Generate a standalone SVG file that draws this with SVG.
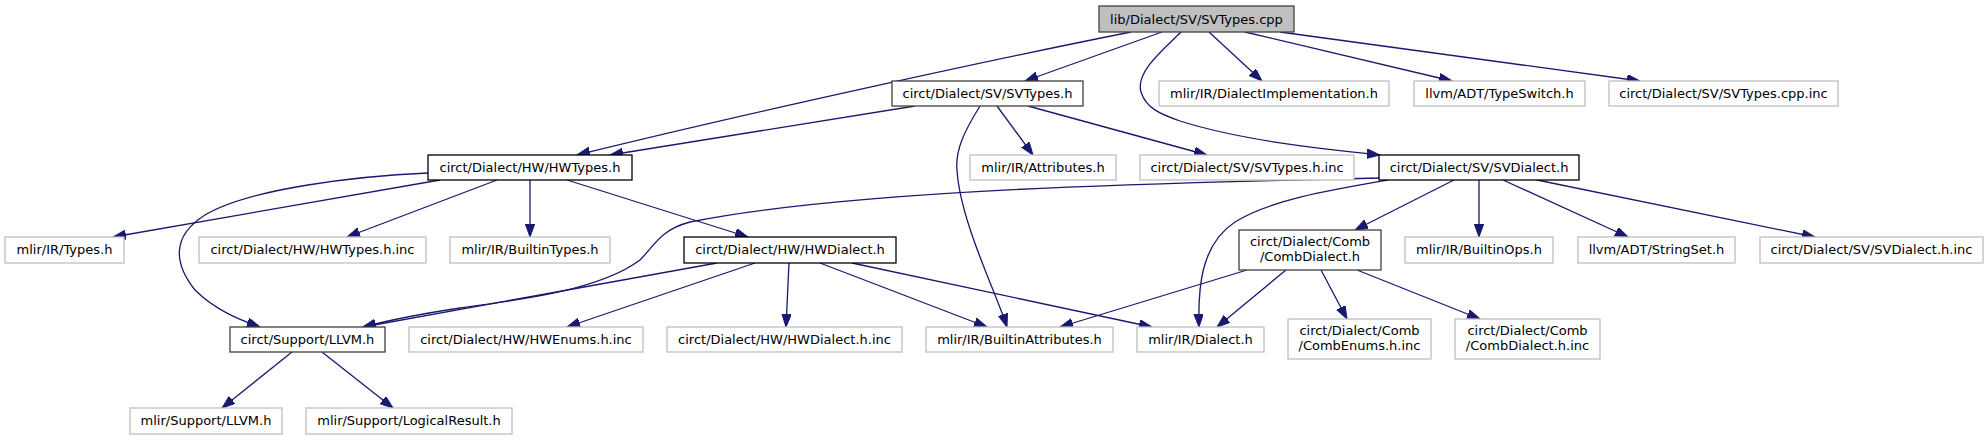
<svg xmlns="http://www.w3.org/2000/svg" width="1988" height="440" viewBox="0 0 1988 440">
<style>
.n rect{fill:#fff;stroke:#000;stroke-width:1.3}
.n.g rect{stroke:#bfbfbf}
.n.d rect{stroke:#404040}
.n.root rect{fill:#bfbfbf;stroke:#404040}
text{font-family:"DejaVu Sans",sans-serif;font-size:13px;fill:#000;text-anchor:middle}
#edges path{fill:none;stroke:#191970;stroke-width:1.3}
</style>
<defs>
<marker id="ah" markerUnits="userSpaceOnUse" markerWidth="14" markerHeight="10" refX="13" refY="4.7" orient="auto">
<path d="M0,0 L13,4.7 L0,9.4 z" fill="#191970" stroke="#191970" stroke-width="1"/>
</marker>
</defs>
<rect width="1988" height="440" fill="#fff"/>
<g id="edges">
<path marker-end="url(#ah)" d="M1131,32 C1000,58 760,110 577,155"/>
<path marker-end="url(#ah)" d="M1162,32 L1025,81"/>
<path marker-end="url(#ah)" d="M1181,32 C1165,48 1135,72 1141,92 C1146,108 1160,114 1180,121 C1240,140 1320,149 1380,155"/>
<path marker-end="url(#ah)" d="M1209,32 L1262,81"/>
<path marker-end="url(#ah)" d="M1245,32 L1452,81"/>
<path marker-end="url(#ah)" d="M1280,32 L1640,81"/>
<path marker-end="url(#ah)" d="M915,106 L610,155"/>
<path marker-end="url(#ah)" d="M980,106 C965,130 955,150 957,170 C960,220 995,290 1007,327"/>
<path marker-end="url(#ah)" d="M997,106 L1033,155"/>
<path marker-end="url(#ah)" d="M1028,106 L1207,155"/>
<path marker-end="url(#ah)" d="M440,180 L113,237"/>
<path marker-end="url(#ah)" d="M428,173 C360,176 250,188 205,215 C170,237 175,265 195,290 C215,310 240,320 260,327"/>
<path marker-end="url(#ah)" d="M497,180 L347,237"/>
<path marker-end="url(#ah)" d="M530,180 L530,237"/>
<path marker-end="url(#ah)" d="M567,180 L748,237"/>
<path marker-end="url(#ah)" d="M717,263 L363,327"/>
<path marker-end="url(#ah)" d="M755,263 L567,327"/>
<path marker-end="url(#ah)" d="M789,263 L786,327"/>
<path marker-end="url(#ah)" d="M820,263 L987,327"/>
<path marker-end="url(#ah)" d="M852,263 L1152,327"/>
<path marker-end="url(#ah)" d="M1379,178 C1150,183 850,190 690,222 C660,230 655,245 640,260 C600,290 520,300 460,308 C420,314 390,320 363,327"/>
<path marker-end="url(#ah)" d="M1388,180 C1330,190 1270,200 1235,222 C1200,245 1198,290 1199,327"/>
<path marker-end="url(#ah)" d="M1454,180 L1355,230"/>
<path marker-end="url(#ah)" d="M1479,180 L1479,237"/>
<path marker-end="url(#ah)" d="M1503,180 L1628,237"/>
<path marker-end="url(#ah)" d="M1537,180 L1815,237"/>
<path marker-end="url(#ah)" d="M1247,270 L1060,327"/>
<path marker-end="url(#ah)" d="M1286,270 L1217,327"/>
<path marker-end="url(#ah)" d="M1321,270 L1347,319"/>
<path marker-end="url(#ah)" d="M1357,270 L1480,319"/>
<path marker-end="url(#ah)" d="M292,352 L222,408"/>
<path marker-end="url(#ah)" d="M322,352 L393,408"/>
</g>
<g id="n_root" class="n root"><rect x="1099" y="6" width="195" height="26"/><text x="1196.5" y="24">lib/Dialect/SV/SVTypes.cpp</text></g>
<g id="n_svtypes" class="n d"><rect x="892" y="81" width="191" height="25"/><text x="987.5" y="98">circt/Dialect/SV/SVTypes.h</text></g>
<g id="n_dialimpl" class="n g"><rect x="1159" y="81" width="230" height="25"/><text x="1274" y="98">mlir/IR/DialectImplementation.h</text></g>
<g id="n_typeswitch" class="n g"><rect x="1414" y="81" width="171" height="25"/><text x="1499.5" y="98">llvm/ADT/TypeSwitch.h</text></g>
<g id="n_svtypescppinc" class="n g"><rect x="1609" y="81" width="229" height="25"/><text x="1723.5" y="98">circt/Dialect/SV/SVTypes.cpp.inc</text></g>
<g id="n_hwtypes" class="n"><rect x="428" y="155" width="204" height="25"/><text x="530" y="172">circt/Dialect/HW/HWTypes.h</text></g>
<g id="n_attributes" class="n g"><rect x="970" y="155" width="146" height="25"/><text x="1043" y="172">mlir/IR/Attributes.h</text></g>
<g id="n_svtypeshinc" class="n g"><rect x="1140" y="155" width="214" height="25"/><text x="1247" y="172">circt/Dialect/SV/SVTypes.h.inc</text></g>
<g id="n_svdialect" class="n"><rect x="1379" y="155" width="200" height="25"/><text x="1479" y="172">circt/Dialect/SV/SVDialect.h</text></g>
<g id="n_types" class="n g"><rect x="5" y="237" width="119" height="26"/><text x="64.5" y="254">mlir/IR/Types.h</text></g>
<g id="n_hwtypeshinc" class="n g"><rect x="199" y="237" width="227" height="26"/><text x="312.5" y="254">circt/Dialect/HW/HWTypes.h.inc</text></g>
<g id="n_builtintypes" class="n g"><rect x="450" y="237" width="160" height="26"/><text x="530" y="254">mlir/IR/BuiltinTypes.h</text></g>
<g id="n_hwdialect" class="n"><rect x="684" y="237" width="212" height="26"/><text x="790" y="254">circt/Dialect/HW/HWDialect.h</text></g>
<g id="n_combdialect" class="n d"><rect x="1239" y="230" width="142" height="40"/><text x="1310" y="246">circt/Dialect/Comb</text><text x="1310" y="261">/CombDialect.h</text></g>
<g id="n_builtinops" class="n g"><rect x="1405" y="237" width="148" height="26"/><text x="1479" y="254">mlir/IR/BuiltinOps.h</text></g>
<g id="n_stringset" class="n g"><rect x="1578" y="237" width="157" height="26"/><text x="1656.5" y="254">llvm/ADT/StringSet.h</text></g>
<g id="n_svdialecthinc" class="n g"><rect x="1760" y="237" width="223" height="26"/><text x="1871.5" y="254">circt/Dialect/SV/SVDialect.h.inc</text></g>
<g id="n_llvm" class="n d"><rect x="230" y="327" width="155" height="25"/><text x="307.5" y="344">circt/Support/LLVM.h</text></g>
<g id="n_hwenums" class="n g"><rect x="409" y="327" width="234" height="25"/><text x="526" y="344">circt/Dialect/HW/HWEnums.h.inc</text></g>
<g id="n_hwdialecthinc" class="n g"><rect x="667" y="327" width="235" height="25"/><text x="784.5" y="344">circt/Dialect/HW/HWDialect.h.inc</text></g>
<g id="n_builtinattrs" class="n g"><rect x="926" y="327" width="187" height="25"/><text x="1019.5" y="344">mlir/IR/BuiltinAttributes.h</text></g>
<g id="n_dialect" class="n g"><rect x="1137" y="327" width="127" height="25"/><text x="1200.5" y="344">mlir/IR/Dialect.h</text></g>
<g id="n_combenums" class="n g"><rect x="1288" y="319" width="143" height="40"/><text x="1359.5" y="335">circt/Dialect/Comb</text><text x="1359.5" y="350">/CombEnums.h.inc</text></g>
<g id="n_combdialecthinc" class="n g"><rect x="1455" y="319" width="145" height="40"/><text x="1527.5" y="335">circt/Dialect/Comb</text><text x="1527.5" y="350">/CombDialect.h.inc</text></g>
<g id="n_mlirllvm" class="n g"><rect x="130" y="408" width="152" height="26"/><text x="206" y="425">mlir/Support/LLVM.h</text></g>
<g id="n_logicalresult" class="n g"><rect x="306" y="408" width="206" height="26"/><text x="409" y="425">mlir/Support/LogicalResult.h</text></g>
</svg>
